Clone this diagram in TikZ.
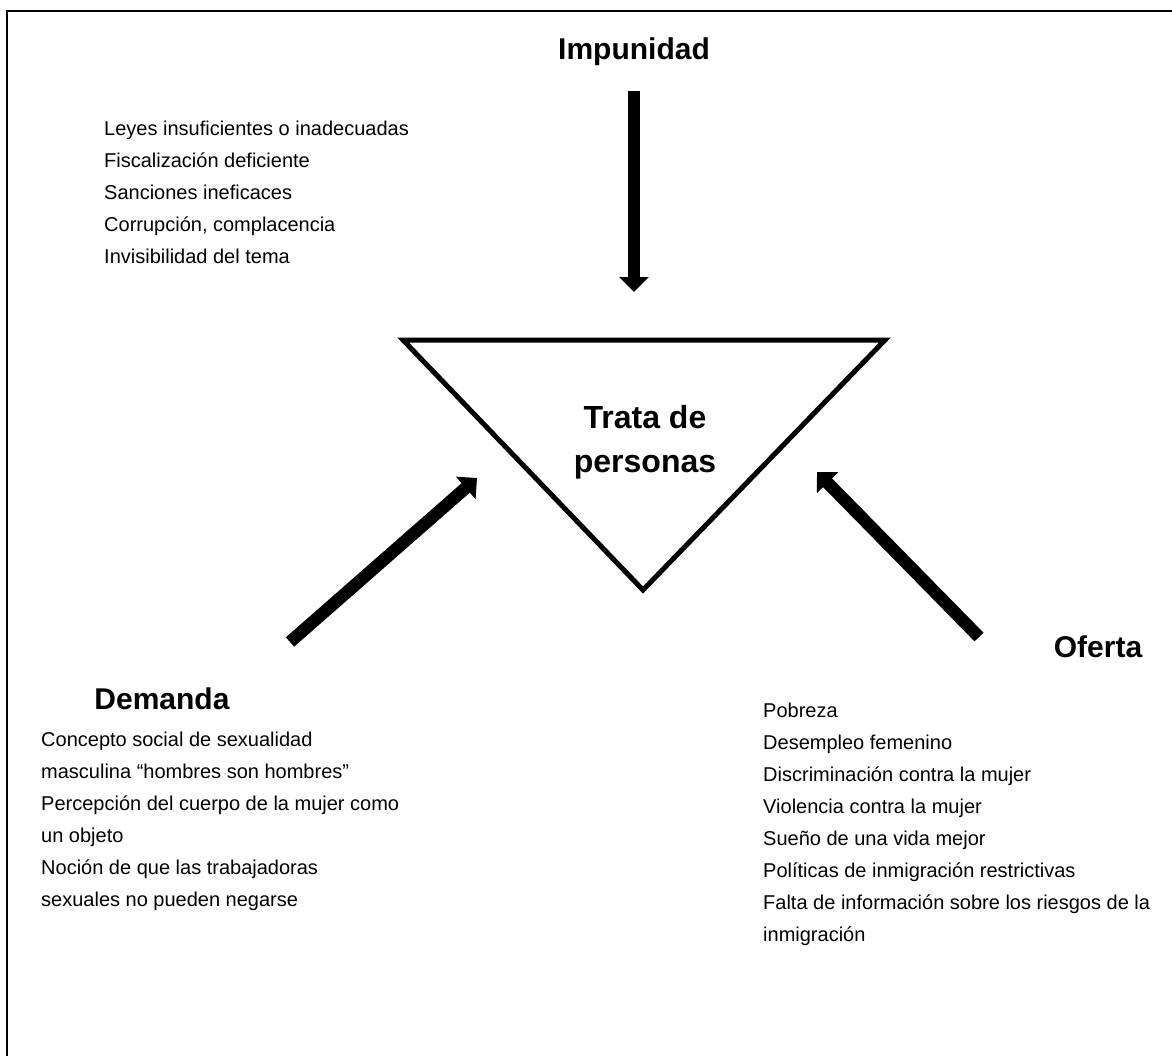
\documentclass[tikz,border=0pt]{standalone}
\usepackage{fontspec}
\setmainfont{Liberation Sans}
\usetikzlibrary{arrows.meta}
\begin{document}
\begin{tikzpicture}[x=1pt,y=-1pt,
  bodytxt/.style={font=\fontsize{20}{32}\selectfont, align=left, inner sep=0pt, anchor=north west},
  headtxt/.style={font=\fontsize{30}{36}\selectfont\bfseries, inner sep=0pt},
  centertxt/.style={font=\fontsize{32}{44}\selectfont\bfseries, align=center, inner sep=0pt},
  bigarrow/.style={line width=12.5pt, -{Triangle[width=29pt,length=15pt]}},
  frameline/.style={line width=2pt},
  tri/.style={line width=5pt, line join=miter}]
\useasboundingbox (0,0) rectangle (1172,1055);
\fill[white] (0,0) rectangle (1172,1055);
% frame (only left and top edges are visible)
\draw[frameline] (7,1060) -- (7,11) -- (1180,11);

% triangle
\coordinate (tl) at (403,340);
\coordinate (tr) at (885,340);
\coordinate (bt) at (643,590);
\draw[tri] (tl) -- (tr) -- (bt) -- cycle;
\node[centertxt] (trata) at (645,442) {Trata de\\personas};

% headings
\node[headtxt] (imp) at (634,52) {Impunidad};
\node[headtxt] (dem) at (162,699) {Demanda};
\node[headtxt] (ofe) at (1098,647) {Oferta};

% arrows
\coordinate (impS) at (634,91);
\coordinate (impT) at (634,292);
\draw[bigarrow] (impS) -- (impT);
\coordinate (demS) at (290,642);
\coordinate (demT) at (477,478);
\draw[bigarrow] (demS) -- (demT);
\coordinate (ofeS) at (979,637);
\coordinate (ofeT) at (817,472);
\draw[bigarrow] (ofeS) -- (ofeT);

% lists
\node[bodytxt] (implist) at (104,121) {Leyes insuficientes o inadecuadas\\
Fiscalización deficiente\\
Sanciones ineficaces\\
Corrupción, complacencia\\
Invisibilidad del tema};

\node[bodytxt] (demlist) at (41,732) {Concepto social de sexualidad\\
masculina “hombres son hombres”\\
Percepción del cuerpo de la mujer como\\
un objeto\\
Noción de que las trabajadoras\\
sexuales no pueden negarse};

\node[bodytxt] (ofelist) at (763,703) {Pobreza\\
Desempleo femenino\\
Discriminación contra la mujer\\
Violencia contra la mujer\\
Sueño de una vida mejor\\
Políticas de inmigración restrictivas\\
Falta de información sobre los riesgos de la\\
inmigración};
\end{tikzpicture}
\end{document}
